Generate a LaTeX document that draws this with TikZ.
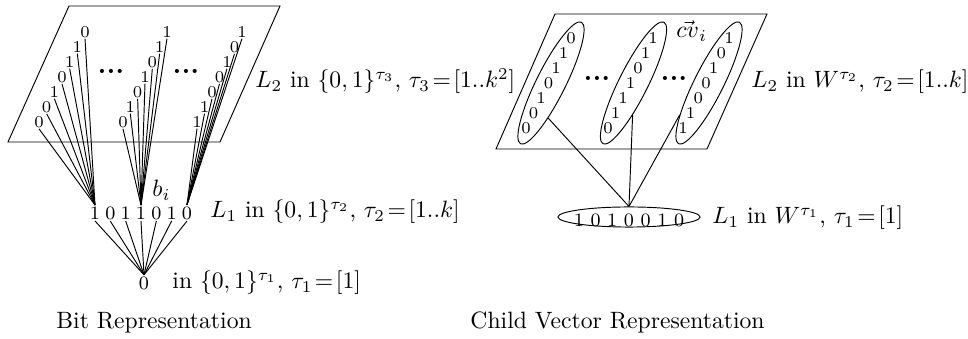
\documentclass[tikz,border=0pt]{standalone}
\usetikzlibrary{shapes.geometric}
\begin{document}
\begin{tikzpicture}[x=0.423pt,y=-0.423pt,
  bit/.style={font=\scriptsize,inner sep=0.3pt},
  lbit/.style={font=\footnotesize,inner sep=0.5pt},
  lab/.style={anchor=base west,inner sep=0pt},
  grp/.style={draw,ellipse,inner sep=0pt,minimum width=57.5pt,minimum height=12.3pt,rotate=63.4},
  dotsnode/.style={inner sep=0pt,font={\large\bfseries}}]
\useasboundingbox (0,0) rectangle (968,339);
% ---------- left: bit representation ----------
\draw (69,6) -- (280,6) -- (220,142) -- (8,142) -- cycle;
\foreach \v [count=\i] in {1,0,1,1,0,1,0}
  \node[lbit] (l\i) at ({95+15.33*(\i-1)},213) {\v};
\foreach \v [count=\i] in {0,0,1,0,1,1,0}
  \node[bit] (ga\i) at ({39+7.67*(\i-1)},{122-15*(\i-1)}) {\v};
\foreach \v [count=\i] in {0,1,0,1,0,1,1}
  \node[bit] (gb\i) at ({123+7.33*(\i-1)},{122-15*(\i-1)}) {\v};
\foreach \v [count=\i] in {1,1,0,0,1,0,1}
  \node[bit] (gc\i) at ({197+7.5*(\i-1)},{122-15*(\i-1)}) {\v};
\foreach \i in {1,...,7}
  \draw (ga\i.south) -- (l1.north) (gb\i.south) -- (l4.north) (gc\i.south) -- (l7.north);
\node[dotsnode] (dl1) at (111,71) {...};
\node[dotsnode] (dl2) at (186,71) {...};
\node[lbit] (root) at (144,283) {0};
\foreach \i in {1,...,7}
  \draw (l\i.south) -- (root.north);
\node[lab] (bi) at (152,197) {$b_i$};
\node[lab] (l2lab) at (255,88) {$L_2$ in $\{0,1\}^{\tau_3}$, $\tau_3\!=\![1..k^2]$};
\node[lab] (l1lab) at (210,218) {$L_1$ in $\{0,1\}^{\tau_2}$, $\tau_2\!=\![1..k]$};
\node[lab] (l0lab) at (172,289) {in $\{0,1\}^{\tau_1}$, $\tau_1\!=\![1]$};
\node[lab] (cap1) at (56,329) {Bit Representation};
% ---------- right: child vector representation ----------
\draw (555,14) -- (767,14) -- (707,149) -- (496,149) -- cycle;
\node[grp] (e1) at (551,83) {};
\node[grp] (e2) at (633.5,83) {};
\node[grp] (e3) at (709,83) {};
\foreach \v [count=\i] in {0,0,1,0,1,1,0}
  \node[bit] (ea\i) at ({526+7.5*(\i-1)},{128-15*(\i-1)}) {\v};
\foreach \v [count=\i] in {0,1,1,1,0,1,1}
  \node[bit] (eb\i) at ({608+7.5*(\i-1)},{128-15*(\i-1)}) {\v};
\foreach \v [count=\i] in {1,1,0,0,1,0,1}
  \node[bit] (ec\i) at ({683+7.67*(\i-1)},{128-15*(\i-1)}) {\v};
\node[dotsnode] (dr1) at (597,78) {...};
\node[dotsnode] (dr2) at (674,78) {...};
\node[lab] (cv) at (676,38) {$\vec{cv}_i$};
\node[draw,ellipse,inner sep=0pt,minimum width=60.1pt,minimum height=8.5pt] (bot) at (629,217) {};
\node[inner sep=0pt,font=\footnotesize] (botbits) at (629,220) {1 0 1 0 0 1 0};
\draw (e1.202) -- (bot.north);
\draw (e2.205) -- (bot.north);
\draw (e3.164) -- (bot.north);
\node[lab] (r2lab) at (751,88) {$L_2$ in $W^{\tau_2}$, $\tau_2\!=\![1..k]$};
\node[lab] (r1lab) at (712,224) {$L_1$ in $W^{\tau_1}$, $\tau_1\!=\![1]$};
\node[lab] (cap2) at (470,329) {Child Vector Representation};
\end{tikzpicture}
\end{document}
